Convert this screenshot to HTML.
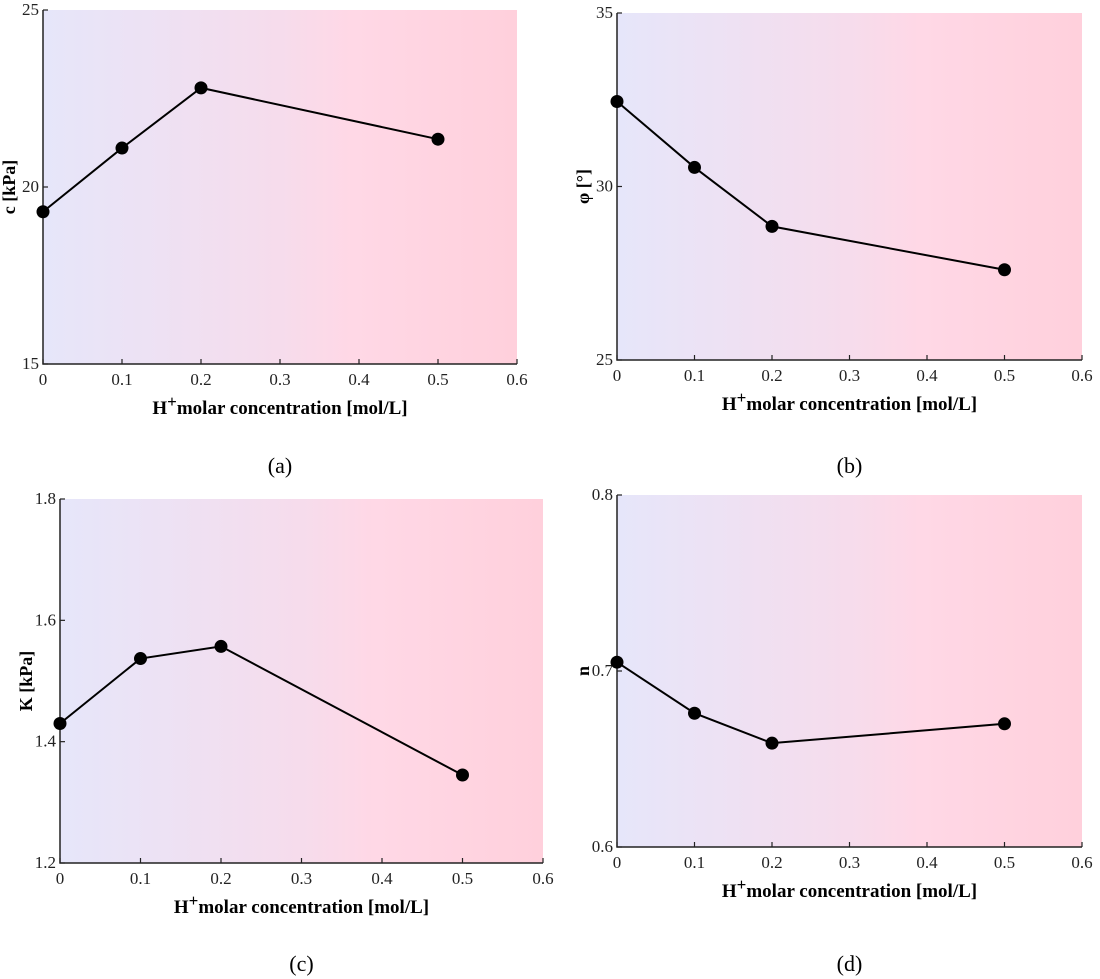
<!DOCTYPE html>
<html><head><meta charset="utf-8"><style>
body{margin:0;background:#fff;}
svg{display:block;font-family:"Liberation Serif",serif;}
</style></head><body>
<svg id="fig" width="1100" height="979" viewBox="0 0 1100 979">
<defs><linearGradient id="bg" x1="0" x2="1" y1="0" y2="0">
<stop offset="0" stop-color="#e6e6fa"/><stop offset="0.5" stop-color="#f6dcec"/><stop offset="0.65" stop-color="#ffd8e6"/><stop offset="1" stop-color="#ffd0dc"/></linearGradient></defs>
</svg>
<script>
const xCats = [0, 0.1, 0.2, 0.5];
const xTicks = ["0","0.1","0.2","0.3","0.4","0.5","0.6"];
const cVals = [19.3, 21.1, 22.8, 21.35];
const phiVals = [32.45, 30.55, 28.85, 27.6];
const kVals = [1.43, 1.537, 1.557, 1.345];
const nVals = [0.705, 0.676, 0.659, 0.670];
const cTicks = ["15","20","25"];
const phiTicks = ["25","30","35"];
const kTicks = ["1.2","1.4","1.6","1.8"];
const nTicks = ["0.6","0.7","0.8"];

const NS="http://www.w3.org/2000/svg";
const svg=document.getElementById('fig');
function mk(tag,attrs,parent){const e=document.createElementNS(NS,tag);for(const k in attrs)e.setAttribute(k,attrs[k]);(parent||svg).appendChild(e);return e;}

function panel(id,box,vals,yTicks,ylab,tag,tagY){
  const g=mk('g',{});
  
  
  const [x0,x1,yT,yB]=box;
  const ymin=parseFloat(yTicks[0]),ymax=parseFloat(yTicks[yTicks.length-1]);
  const X=v=>x0+(v-0)/(0.6)*(x1-x0);
  const Y=v=>yB-(v-ymin)/(ymax-ymin)*(yB-yT);
  const r=mk('rect',{x:x0,y:yT,width:x1-x0,height:yB-yT,fill:'url(#bg)'},g);
  
  
  const ax=mk('path',{d:`M${x0},${yT}V${yB}H${x1}`,stroke:'#222',fill:'none','stroke-width':1.5},g);
  
  
  xTicks.forEach((t)=>{const v=parseFloat(t);const x=X(v);
    mk('line',{x1:x,x2:x,y1:yB,y2:yB-5,stroke:'#222','stroke-width':1.2},g);
    const tx=mk('text',{x:x,y:yB+21,'font-size':17,'text-anchor':'middle',fill:'#222'},g);
    tx.textContent=t;
    
    
  });
  yTicks.forEach((t)=>{const y=Y(parseFloat(t));
    mk('line',{x1:x0,x2:x0+5,y1:y,y2:y,stroke:'#222','stroke-width':1.2},g);
    const tx=mk('text',{x:x0-4,y:y+5,'font-size':17,'text-anchor':'end',fill:'#222'},g);
    tx.textContent=t;
    
    
  });
  const pts=xCats.map((c,i)=>X(c)+','+Y(vals[i])).join(' ');
  const ln=mk('polyline',{points:pts,fill:'none',stroke:'#000','stroke-width':2},g);
  
  
  xCats.forEach((c,i)=>{const p=mk('circle',{cx:X(c),cy:Y(vals[i]),r:6.5,fill:'#000'},g);
    
    
  });
  const cx=(x0+x1)/2;
  const yl=mk('text',{x:0,y:0,'font-size':18,'font-weight':'bold','text-anchor':'middle',transform:`translate(${x0-28},${(yT+yB)/2}) rotate(-90)`},g);
  yl.textContent=ylab;
  
  
  const xl=mk('text',{x:cx,y:yB+50,'font-size':19,'font-weight':'bold','text-anchor':'middle'},g);
  xl.innerHTML='H<tspan dy="-7" font-size="17">+</tspan><tspan dy="7">molar concentration [mol/L]</tspan>';
  
  
  const tg=mk('text',{x:cx,y:tagY,'font-size':22,'text-anchor':'middle'},g);
  tg.textContent=tag;
  
  
}
panel('a',[43,517,10,364],cVals,cTicks,'c [kPa]','(a)',473);
panel('b',[617,1082,13,360],phiVals,phiTicks,'φ [°]','(b)',473);
panel('c',[60,543,499,863],kVals,kTicks,'K [kPa]','(c)',971);
panel('d',[617,1082,495,847],nVals,nTicks,'n','(d)',971);
</script>
</body></html>
